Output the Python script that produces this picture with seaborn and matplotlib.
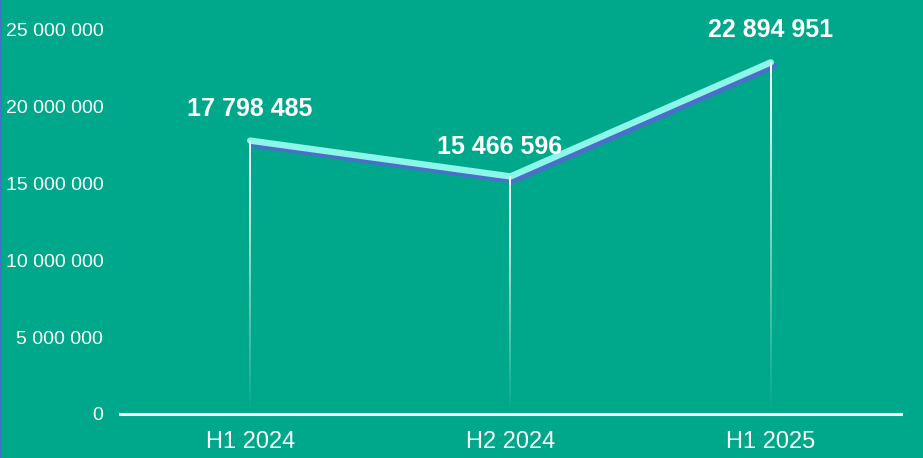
import numpy as np
import matplotlib
matplotlib.use("Agg")
import matplotlib.pyplot as plt
import matplotlib.patheffects as pe
from matplotlib.collections import LineCollection
from matplotlib.patches import Rectangle
from matplotlib.ticker import FuncFormatter
import pandas as pd
import seaborn as sns

# data
periods = ["H1 2024", "H2 2024", "H1 2025"]
values = [17798485, 15466596, 22894951]
y_ticks = [0, 5000000, 10000000, 15000000, 20000000, 25000000]

# style
BG = "#00A88B"
LINE = "#8CF7E9"
SHADOW = "#4A6FC9"
label_offsets = [(0, 23), (-8, 21), (0, 23)]  # points, per data label


def spaced(v, pos=None):
    return f"{int(v):,}".replace(",", " ")


sns.set_style("white")
plt.rcParams["font.family"] = ["Liberation Sans", "DejaVu Sans"]

df = pd.DataFrame({"period": periods, "value": values})

fig = plt.figure(figsize=(9.23, 4.58), dpi=100, facecolor=BG)
ax = fig.add_axes([120 / 923, 44 / 458, 781 / 923, 384 / 458])
ax.set_facecolor(BG)

sns.lineplot(data=df, x="period", y="value", sort=False, color=LINE,
             linewidth=4.6, solid_capstyle="round", ax=ax, zorder=3)
line = ax.lines[0]
line.set_clip_on(False)
line.set_path_effects([
    pe.SimpleLineShadow(offset=(2.2, -2.9), shadow_color=SHADOW, alpha=1.0),
    pe.Normal(),
])

# fading drop lines from each point to the axis
n = 60
for i, v in enumerate(values):
    ys = np.linspace(v, 0, n + 1)
    segs = [[(i, ys[k]), (i, ys[k + 1])] for k in range(n)]
    alphas = np.linspace(1.0, 0.0, n)
    cols = [(1, 1, 1, a) for a in alphas]
    lc = LineCollection(segs, colors=cols, linewidths=1.4, zorder=4)
    ax.add_collection(lc)

# data labels
for i, v in enumerate(values):
    dx, dy = label_offsets[i]
    ax.annotate(spaced(v), (i, v), xytext=(dx, dy), textcoords="offset points",
                ha="center", va="center", color="white", fontsize=18,
                fontweight="bold", annotation_clip=False, zorder=5)

ax.set_xlim(-0.5, 2.5)
ax.set_ylim(0, 25000000)
ax.set_yticks(y_ticks)
ax.yaxis.set_major_formatter(FuncFormatter(spaced))
ax.set_xlabel("")
ax.set_ylabel("")
ax.tick_params(axis="y", length=0, pad=12, labelsize=14, labelcolor="white")
ax.tick_params(axis="x", length=0, pad=12, labelsize=17, labelcolor="white")

for side in ["top", "right", "left"]:
    ax.spines[side].set_visible(False)
ax.spines["bottom"].set_color("white")
ax.spines["bottom"].set_linewidth(2.2)
ax.grid(False)

# thin border on the left edge
fig.patches.append(Rectangle((0, 0), 2 / 923, 1, transform=fig.transFigure,
                             facecolor="#4472C4", edgecolor="none"))

fig.savefig("out.png", dpi=100, facecolor=BG)
